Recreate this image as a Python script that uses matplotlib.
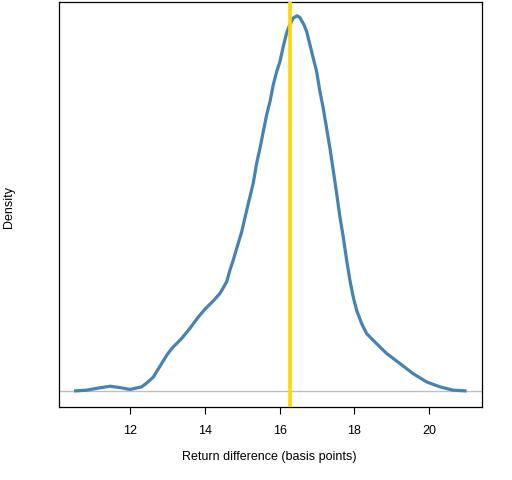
import matplotlib
matplotlib.use("Agg")
import matplotlib.pyplot as plt

# Return difference (basis points) and relative density
x_vals = [10.493, 10.833, 11.100, 11.456, 11.724, 11.992, 12.305, 12.439, 12.616, 12.795,
          12.975, 13.108, 13.376, 13.598, 13.821, 14.000, 14.222, 14.402, 14.581, 14.669,
          14.758, 14.849, 14.983, 15.116, 15.293, 15.384, 15.473, 15.561, 15.652, 15.741,
          15.829, 15.920, 16.009, 16.096, 16.187, 16.249, 16.364, 16.471, 16.543, 16.651,
          16.723, 16.811, 16.900, 16.991, 17.079, 17.167, 17.258, 17.347, 17.435, 17.526,
          17.614, 17.703, 17.794, 17.882, 17.970, 18.062, 18.195, 18.329, 18.506, 18.865,
          19.221, 19.577, 19.936, 20.292, 20.648, 21.007]
density = [0.000, 0.002, 0.007, 0.0125, 0.009, 0.004, 0.011, 0.021, 0.037, 0.066,
           0.095, 0.113, 0.140, 0.167, 0.197, 0.218, 0.240, 0.260, 0.291, 0.322,
           0.349, 0.380, 0.424, 0.481, 0.554, 0.607, 0.647, 0.691, 0.736, 0.771,
           0.816, 0.851, 0.878, 0.918, 0.954, 0.971, 0.994, 1.000, 0.995, 0.976,
           0.958, 0.923, 0.887, 0.851, 0.798, 0.754, 0.700, 0.647, 0.589, 0.527,
           0.464, 0.411, 0.349, 0.295, 0.251, 0.215, 0.180, 0.153, 0.135, 0.100,
           0.073, 0.046, 0.024, 0.011, 0.002, 0.000]
actual_value = 16.29
x_ticks = [12, 14, 16, 18, 20]

plt.rcParams['font.family'] = ['Liberation Sans', 'DejaVu Sans']

fig = plt.figure(figsize=(5.12, 4.8), dpi=100)
ax = fig.add_axes([59/512, 1 - 406.7/480, (482-59)/512, (406.7-1.5)/480])

ax.axhline(0, color='#BEBEBE', lw=1.0, zorder=1)
ax.plot(x_vals, density, color='#4682B4', lw=2.3, zorder=2,
        solid_capstyle='butt', solid_joinstyle='round')
ax.axvline(actual_value, color='#FFD700', lw=2.6, zorder=3)

ax.set_xlim(10.09, 21.42)
ax.set_ylim(-0.042, 1.038)
ax.set_xticks(x_ticks)
ax.set_xticklabels([str(t) for t in x_ticks], fontsize=9)
ax.set_yticks([])
ax.tick_params(axis='x', length=5, width=0.8, pad=8.5, color='black')
for s in ax.spines.values():
    s.set_linewidth(0.9)
    s.set_color('black')

fig.text(269/512, 1 - 457/480, 'Return difference (basis points)', ha='center', va='center', fontsize=9)
fig.text(9/512, 1 - 207/480, 'Density', ha='center', va='center', rotation=90, fontsize=9)

fig.savefig('out.png', dpi=100)
